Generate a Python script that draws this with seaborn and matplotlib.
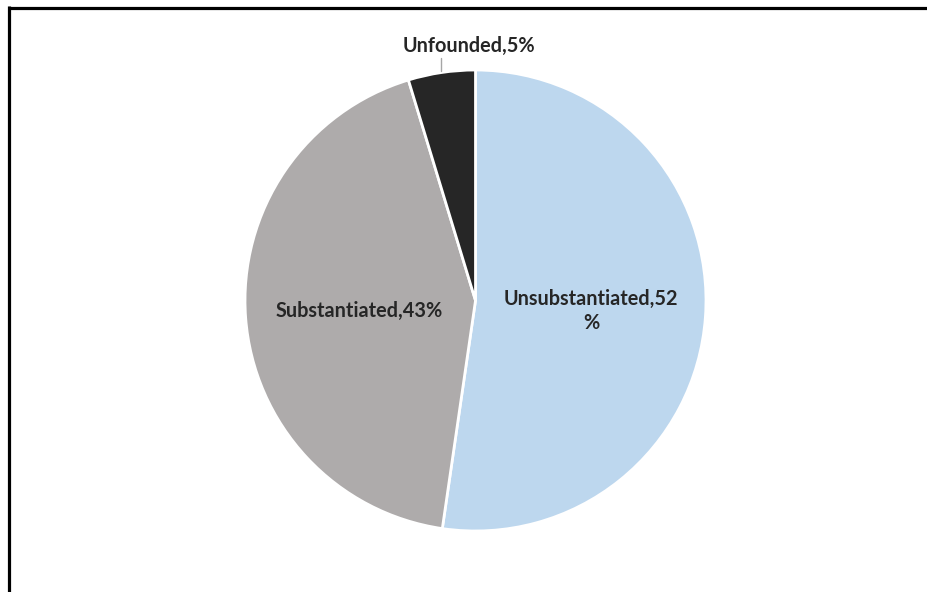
import matplotlib
matplotlib.use("Agg")
import matplotlib.pyplot as plt
from matplotlib.lines import Line2D
import seaborn as sns

categories = ["Unsubstantiated", "Substantiated", "Unfounded"]
values = [52.3, 43.0, 4.7]
label_pcts = [52, 43, 5]
colors = ["#BDD7EE", "#AEABAB", "#262626"]

sns.set_theme(style="white")
plt.rcParams['font.family'] = ['Lato', 'DejaVu Sans']

W, H = 928, 592
fig = plt.figure(figsize=(W / 100, H / 100), dpi=100)
cx, cy, r = 475.5, 300.5, 230.5
ax = fig.add_axes([(cx - r) / W, (H - cy - r) / H, 2 * r / W, 2 * r / H])
ax.pie(values, colors=colors, startangle=90, counterclock=False,
       wedgeprops=dict(edgecolor="white", linewidth=2))
ax.set_xlim(-1, 1)
ax.set_ylim(-1, 1)
ax.set_aspect("equal")
ax.axis("off")

def px(x, y):
    return (x - cx) / r, (cy - y) / r

labels = [f"{c},{v}%" for c, v in zip(categories, label_pcts)]
fs = 14.3
x, y = px(591, 311)
ax.text(x, y, f"{categories[0]},{label_pcts[0]}\n%", ha="center", va="center", fontsize=fs,
        fontweight="bold", color="#262626", linespacing=1.25)
x, y = px(359, 311)
ax.text(x, y, labels[1], ha="center", va="center", fontsize=fs,
        fontweight="bold", color="#262626")
x, y = px(469, 46)
ax.text(x, y, labels[2], ha="center", va="center", fontsize=fs,
        fontweight="bold", color="#262626", clip_on=False)
x0, y0 = px(441, 58)
x1, y1 = px(441, 71)
ax.plot([x0, x1], [y0, y1], color="#A6A6A6", linewidth=1, clip_on=False)

fig.add_artist(Line2D([9.5 / W, 9.5 / W], [0, 1 - 6 / H], transform=fig.transFigure,
                      color="black", linewidth=2.3, solid_capstyle="butt"))
fig.add_artist(Line2D([8 / W, 1], [1 - 7.5 / H, 1 - 7.5 / H], transform=fig.transFigure,
                      color="black", linewidth=2.3, solid_capstyle="butt"))

fig.savefig("out.png", dpi=100, facecolor="white")
